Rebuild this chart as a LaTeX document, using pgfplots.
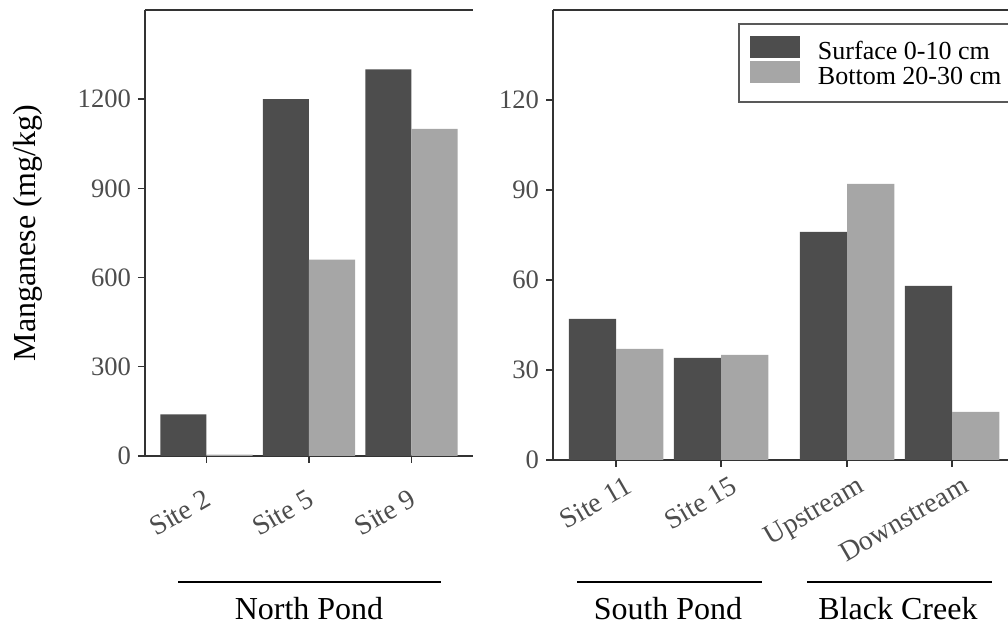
\documentclass[border=0pt]{standalone}
\usepackage{fontspec}
\setmainfont{Liberation Serif}
\usepackage{pgfplots}
\pgfplotsset{compat=1.18}
\definecolor{darkbar}{HTML}{4D4D4D}
\definecolor{lightbar}{HTML}{A6A6A6}
\definecolor{axgray}{HTML}{333333}
\definecolor{ticklab}{HTML}{4D4D4D}
\definecolor{legbox}{HTML}{595959}
\pgfplotsset{
  mystyle/.style={
    scale only axis,
    anchor=south west,
    axis lines*=left,
    axis line style={axgray, line width=0.7pt, -},
    ymin=0,
    tick align=outside,
    major tick length=3.5pt,
    tick style={axgray, line width=0.7pt},
    yticklabel style={font=\fontsize{13.3}{15}\selectfont, text=ticklab},
    xticklabel style={font=\fontsize{14}{16}\selectfont, text=ticklab, rotate=30, anchor=north east, inner sep=0pt},
    /pgf/number format/assume math mode=true,
    /pgf/number format/1000 sep={},
    ybar,
    bar width=0.45,
    clip=false,
  }
}
\begin{document}
\begin{tikzpicture}
\useasboundingbox (0,0) rectangle (504pt,312pt);
% left panel
\begin{axis}[mystyle, at={(72.5pt,84pt)}, width=164pt, height=223pt,
  xmin=0.4, xmax=3.6, ymax=1500, ytick={0,300,600,900,1200},
  xtick={1,2,3}, xticklabels={Site 2,Site 5,Site 9},
  xticklabel style={xshift=-7.5pt, yshift=-10pt}]
\addplot[fill=darkbar, draw=none, bar shift=-0.225] coordinates {(1,140) (2,1200) (3,1300)};
\addplot[fill=lightbar, draw=none, bar shift=0.225] coordinates {(1,5) (2,660) (3,1100)};
\draw[axgray, line width=0.7pt] (rel axis cs:0,1) -- (rel axis cs:1,1);
\end{axis}
% right panel
\begin{axis}[mystyle, at={(276.5pt,82pt)}, width=231pt, height=225pt,
  xmin=0.4, xmax=4.8, ymax=150, ytick={0,30,60,90,120},
  xtick={1,2,3.2,4.2}, xticklabels={Site 11,Site 15,Upstream,Downstream},
  xticklabel style={xshift=2pt, yshift=-5.5pt},
  legend style={at={(0.4004,0.9711)}, anchor=north west, draw=legbox, line width=1pt,
    inner xsep=5.5pt, inner ysep=6pt, font=\fontsize{13}{13}\selectfont,
    row sep=-1.5pt,
    nodes={inner sep=0pt, text height=10pt, text depth=2.5pt},
    /tikz/every odd column/.append style={column sep=9pt}},
  legend cell align=left,
  legend image code/.code={\fill[#1] (0pt,-3pt) rectangle (25pt,8pt);}]
\addplot[fill=darkbar, draw=none, bar shift=-0.225] coordinates {(1,47) (2,34) (3.2,76) (4.2,58)};
\addplot[fill=lightbar, draw=none, bar shift=0.225] coordinates {(1,37) (2,35) (3.2,92) (4.2,16)};
\legend{Surface 0-10 cm, Bottom 20-30 cm}
\draw[axgray, line width=0.7pt] (rel axis cs:0,1) -- (rel axis cs:1,1);
\end{axis}
% group labels
\draw[black, line width=0.7pt] (89pt,21pt) -- (220.5pt,21pt);
\draw[black, line width=0.7pt] (288.5pt,21pt) -- (381pt,21pt);
\draw[black, line width=0.7pt] (403.5pt,21pt) -- (496pt,21pt);
\node[anchor=base, font=\fontsize{16}{19}\selectfont, inner sep=0pt] at (154.5pt,2pt) {North Pond};
\node[anchor=base, font=\fontsize{16}{19}\selectfont, inner sep=0pt] at (334pt,2pt) {South Pond};
\node[anchor=base, font=\fontsize{16}{19}\selectfont, inner sep=0pt] at (449pt,2pt) {Black Creek};
\node[rotate=90, font=\fontsize{16}{19}\selectfont] at (14pt,195.5pt) {Manganese (mg/kg)};
\end{tikzpicture}
\end{document}
